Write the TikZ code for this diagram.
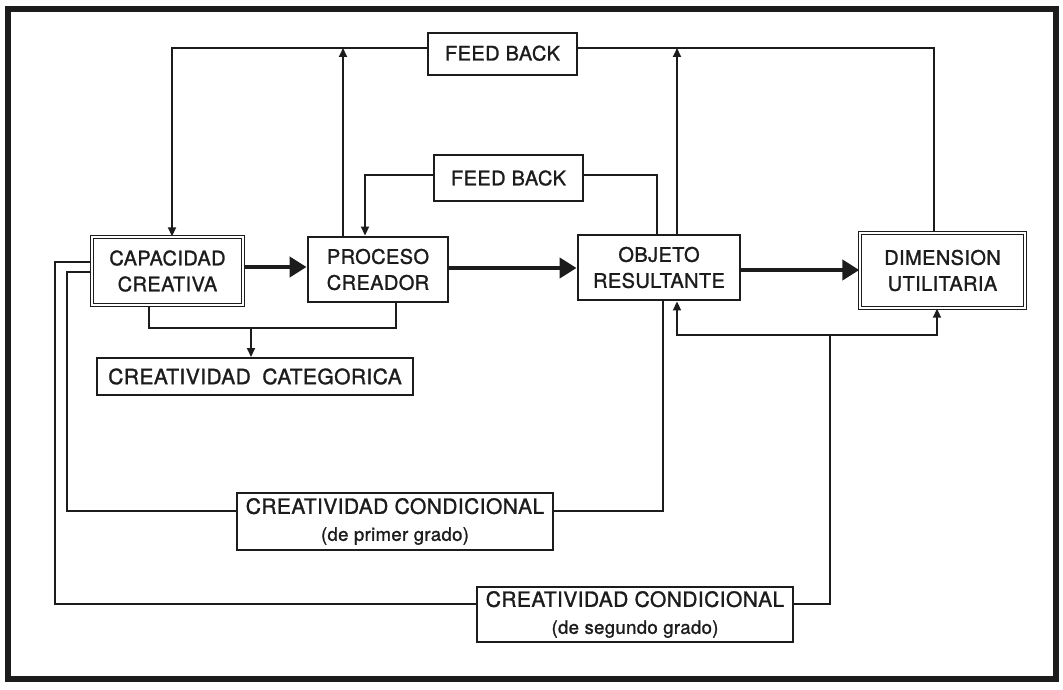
\documentclass[tikz,border=0pt]{standalone}
\usepackage{fontspec}
\setmainfont{TeX Gyre Heros}[FakeBold=1.3, LetterSpace=2]
\usetikzlibrary{arrows.meta,calc}
\definecolor{ink}{HTML}{1C1C1C}
\begin{document}
\begin{tikzpicture}[x=1pt,y=-1pt,
  box/.style={draw=ink, line width=2pt, inner sep=0pt, align=center, text=ink,
              font=\fontsize{20}{26}\selectfont},
  thickbox/.style={box, line width=2.9pt},
  dblbox/.style={box, line width=1.4pt, double, double distance=1.8pt},
  widebox/.style={box, font=\fontsize{21}{28}\selectfont},
  con/.style={draw=ink, line width=1.9pt},
  tip/.tip={Triangle[length=9pt,width=8pt]},
  bigtip/.tip={Triangle[length=17pt,width=20pt]},
  flow/.style={draw=ink, line width=4.4pt, -{bigtip}}
]
\useasboundingbox (0,0) rectangle (1063,690);
\fill[white] (0,0) rectangle (1063,690);
% frame
\draw[ink, line width=6pt] (7.5,9.5) rectangle (1056,679);

% nodes
\node[box, minimum width=149pt, minimum height=42pt] (fb1) at (502.5,54) {\raisebox{2pt}{FEED BACK}};
\node[box, minimum width=149pt, minimum height=46pt] (fb2) at (508.5,178) {FEED BACK};
\node[dblbox, minimum width=151pt, minimum height=68pt] (cap) at (167.5,271) {CAPACIDAD\\CREATIVA};
\node[thickbox, minimum width=140pt, minimum height=65pt] (proc) at (378,269.5) {PROCESO\\CREADOR};
\node[thickbox, minimum width=162pt, minimum height=65pt] (obj) at (659,267.5) {OBJETO\\RESULTANTE};
\node[dblbox, minimum width=165pt, minimum height=75pt] (dim) at (942.5,270.5) {DIMENSION\\UTILITARIA};
\node[box, minimum width=316pt, minimum height=37pt, font=\fontsize{21}{26}\selectfont] (cat) at (255,376.5) {CREATIVIDAD\hspace{0.55em}CATEGORICA};
\node[widebox, minimum width=316pt, minimum height=57pt] (cc1) at (395,521.5) {CREATIVIDAD CONDICIONAL\\[-1pt]{\fontsize{18.5}{20}\selectfont (de primer grado)}};
\node[widebox, minimum width=316pt, minimum height=55pt] (cc2) at (635,614.5) {CREATIVIDAD CONDICIONAL\\[-1pt]{\fontsize{18.5}{20}\selectfont (de segundo grado)}};

% feedback loops at the top
\coordinate (fbl) at ([yshift=6pt]fb1.west);
\coordinate (fbr) at ([yshift=6pt]fb1.east);
\draw[con,-{tip}] (fbl) -| ([xshift=4.5pt]cap.north);
\coordinate (pu) at ([xshift=-35pt]proc.north);
\draw[con,-{tip}] (pu) -- (pu |- fbl);
\draw[con,-{tip}] ([yshift=3pt]fb2.west) -| ([xshift=-13pt]proc.north);
\draw[con] ([yshift=3pt]fb2.east) -| ([xshift=-2pt]obj.north);
\coordinate (ou) at ([xshift=18pt]obj.north);
\draw[con,-{tip}] (ou) -- (ou |- fbl);
\draw[con] (fbr) -| ([xshift=-8.5pt]dim.north);

% main flow
\draw[flow] ([yshift=4pt]cap.east) -- ([yshift=2.5pt]proc.west);
\draw[flow] ([yshift=1.5pt]proc.east) -- ([yshift=-0.5pt]obj.west);
\draw[flow] ([yshift=-2.5pt]obj.east) -- ([yshift=0.5pt]dim.west);

% categorica
\coordinate (j1) at (251,328);
\draw[con] ([xshift=-18.5pt]cap.south) |- (j1) -| ([xshift=18pt]proc.south);
\draw[con,-{tip}] (j1) -- (j1 |- cat.north);

% condicional links on the left
\coordinate (l1) at (67,511);
\coordinate (l2) at (55,604);
\draw[con] ([yshift=9pt]cap.west) -| (l2) -- (l2 -| cc2.west);
\draw[con] ([yshift=-1pt]cap.west) -| (l1) -- (l1 -| cc1.west);

% condicional links on the right
\draw[con] (l1 -| cc1.east) -| ([xshift=4pt]obj.south);
\coordinate (j2) at (830,335);
\draw[con] (l2 -| cc2.east) -| (j2);
\draw[con,-{tip}] (j2) -| ([xshift=18pt]obj.south);
\draw[con,-{tip}] (j2) -| ([xshift=-5.5pt]dim.south);
\end{tikzpicture}
\end{document}
